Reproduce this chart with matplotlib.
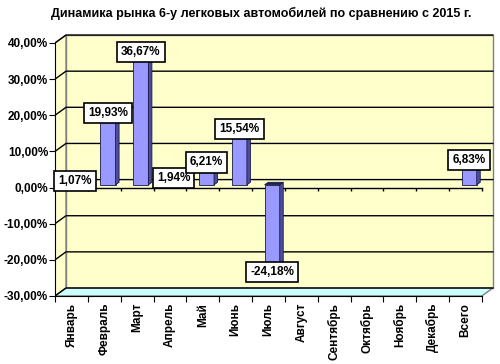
import matplotlib
matplotlib.use('Agg')
import matplotlib.pyplot as plt
from matplotlib.patches import Polygon
import numpy as np

plt.rcParams['font.family'] = ['Liberation Sans', 'DejaVu Sans']
plt.rcParams['font.weight'] = 'bold'

title = 'Динамика рынка 6-у легковых автомобилей по сравнению с 2015 г.'
months = ['Январь', 'Февраль', 'Март', 'Апрель', 'Май', 'Июнь', 'Июль',
          'Август', 'Сентябрь', 'Октябрь', 'Ноябрь', 'Декабрь', 'Всего']
values = [1.07, 19.93, 36.67, 1.94, 6.21, 15.54, -24.18,
          None, None, None, None, None, 6.83]
yticks = [-30, -20, -10, 0, 10, 20, 30, 40]

def pct(v):
    return f"{v:.2f}".replace('.', ',') + '%'

# pseudo 3d depth of the walls, in data units
DX, DY = 0.335, 2.2
BAR_W = 0.46
F0, F1 = 0.34, 0.66   # bar front / back as fraction of the depth

fig = plt.figure(figsize=(5, 3.64), dpi=100)
ax = fig.add_axes([0.11, 0.177, 0.88, 0.7347])
n = len(months)
ax.set_xlim(0, n + 0.4)
ax.set_ylim(-31, 43)
ymin, ymax = yticks[0], yticks[-1]

# walls and floor
ax.add_patch(Polygon([(DX, ymin + DY), (n + DX, ymin + DY), (n + DX, ymax + DY), (DX, ymax + DY)],
                     fc='#FFFFCC', ec='#808080', lw=1, zorder=0))
ax.add_patch(Polygon([(0, ymin), (0, ymax), (DX, ymax + DY), (DX, ymin + DY)],
                     fc='#FFFFCC', ec='#808080', lw=1, zorder=0))
ax.add_patch(Polygon([(0, ymin), (n, ymin), (n + DX, ymin + DY), (DX, ymin + DY)],
                     fc='#CCFFFF', ec='#808080', lw=1, zorder=0))

# gridlines on back and side wall
for t in yticks:
    ax.plot([0, DX, n + DX], [t, t + DY, t + DY], color='black', lw=1, zorder=1)

# front zero line with ticks
ax.plot([0, n], [0, 0], color='black', lw=1, zorder=2)
ax.vlines(np.arange(n + 1), -1.0, 0, color='black', lw=1, zorder=2)

# bars
xs = np.arange(n) + 0.5 + F0 * DX
vals = np.array([np.nan if v is None else v for v in values])
base = F0 * DY
ax.bar(xs, vals, width=BAR_W, bottom=base, color='#9999FF', edgecolor='#1a1a4d', lw=0.6, zorder=3)
ddx, ddy = (F1 - F0) * DX, (F1 - F0) * DY
for x, v in zip(xs, vals):
    if np.isnan(v):
        continue
    x0, x1 = x - BAR_W / 2, x + BAR_W / 2
    top = base + v
    ax.add_patch(Polygon([(x1, base), (x1, top), (x1 + ddx, top + ddy), (x1 + ddx, base + ddy)],
                         fc='#4d4d99', ec='#1a1a4d', lw=0.6, zorder=3))
    tf = max(base, top)
    ax.add_patch(Polygon([(x0, tf), (x1, tf), (x1 + ddx, tf + ddy), (x0 + ddx, tf + ddy)],
                         fc='#8080e0' if v > 0 else '#202040', ec='#1a1a4d', lw=0.6, zorder=3))

# value labels
for x, v in zip(xs, vals):
    if np.isnan(v):
        continue
    ax.text(x, base + v, pct(v), ha='center', va='center', fontsize=8.5, fontweight='bold', zorder=6,
            bbox=dict(boxstyle='square,pad=0.35', fc='white', ec='black', lw=1.2))

# axes
for s in ['top', 'right']:
    ax.spines[s].set_visible(False)
ax.spines['left'].set_bounds(ymin, ymax)
ax.spines['bottom'].set_position(('data', ymin))
ax.spines['bottom'].set_bounds(0, n)
ax.set_yticks(yticks)
ax.set_yticklabels([pct(t) for t in yticks], fontsize=8.5, fontweight='bold')
ax.tick_params(axis='y', direction='out', length=4, pad=1)
ax.set_xticks(np.arange(n + 1))
ax.set_xticklabels([])
ax.tick_params(axis='x', which='major', direction='out', length=4)
ax.set_xticks(np.arange(n) + 0.5, minor=True)
ax.set_xticklabels(months, minor=True, rotation=90, fontsize=8.5, fontweight='bold', va='top')
ax.tick_params(axis='x', which='minor', length=0, pad=5)

fig.text(0.522, 0.962, title, ha='center', va='center', fontsize=9, fontweight='bold')

fig.savefig('out.png', dpi=100, facecolor='white')
